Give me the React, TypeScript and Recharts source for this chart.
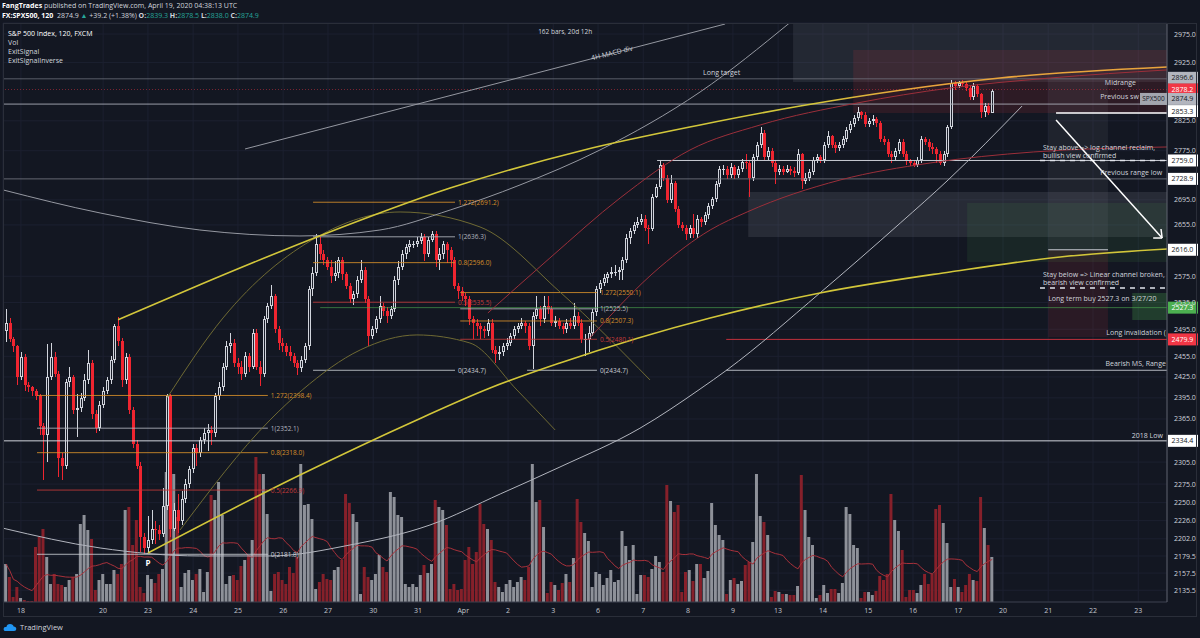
import React from 'react';
import {
  ComposedChart, Bar, Line, XAxis, YAxis, CartesianGrid,
  ReferenceLine, ReferenceArea, ReferenceDot, Cell,
} from 'recharts';

const FONT = '"Open Sans", "Liberation Sans", sans-serif';

// 120-minute candles, FX:SPX500 (open = previous close)
const firstOpen = 2493;
const closes = [
  2505, 2480, 2470, 2425, 2454, 2414, 2410, 2405, 2398, 2355,
  2343, 2425, 2454, 2430, 2310, 2300, 2418, 2425, 2378, 2380,
  2395, 2420, 2445, 2372, 2352, 2385, 2405, 2420, 2450, 2500,
  2478, 2420, 2454, 2378, 2330, 2300, 2205, 2190, 2200, 2215,
  2214, 2208, 2245, 2397, 2215, 2240, 2225, 2255, 2275, 2295,
  2325, 2318, 2335, 2345, 2350, 2345, 2398, 2410, 2440, 2470,
  2475, 2445, 2440, 2430, 2455, 2440, 2490, 2440, 2430, 2510,
  2530, 2545, 2495, 2475, 2470, 2462, 2455, 2445, 2438, 2450,
  2470, 2555, 2580, 2625, 2610, 2600, 2590, 2575, 2580, 2600,
  2578, 2560, 2540, 2548, 2570, 2585, 2540, 2485, 2495, 2510,
  2530, 2522, 2515, 2525, 2570, 2590, 2610, 2620, 2625, 2625,
  2630, 2636, 2610, 2632, 2640, 2600, 2610, 2625, 2615, 2600,
  2560, 2552, 2545, 2540, 2510, 2505, 2500, 2495, 2492, 2505,
  2465, 2458, 2462, 2470, 2475, 2485, 2495, 2500, 2505, 2500,
  2470, 2515, 2525, 2510, 2530, 2525, 2505, 2508, 2500, 2495,
  2505, 2500, 2515, 2505, 2480, 2480, 2490, 2520, 2555, 2565,
  2572, 2578, 2582, 2582, 2585, 2600, 2634, 2645, 2655, 2660,
  2665, 2650, 2648, 2700, 2715, 2752, 2730, 2695, 2722, 2680,
  2655, 2650, 2640, 2650, 2640, 2665, 2660, 2670, 2685, 2697,
  2720, 2745, 2745, 2735, 2748, 2735, 2745, 2757, 2755, 2730,
  2765, 2785, 2805, 2765, 2775, 2755, 2740, 2745, 2740, 2745,
  2742, 2738, 2770, 2725, 2730, 2740, 2760, 2765, 2760, 2785,
  2800, 2785, 2780, 2785, 2795, 2810, 2820, 2830, 2840, 2835,
  2820, 2825, 2828, 2822, 2795, 2790, 2770, 2765, 2775, 2790,
  2770, 2758, 2755, 2752, 2760, 2795, 2790, 2782, 2778, 2770,
  2755, 2770, 2815, 2890, 2885, 2890, 2888, 2880, 2865, 2885,
  2870, 2840, 2850, 2839, 2874.9,
];
const highs = [
  2525, 2512, 2484, 2472, 2462, 2458, 2418, 2412, 2408, 2400,
  2360, 2473, 2475, 2462, 2434, 2318, 2422, 2440, 2428, 2400,
  2402, 2430, 2465, 2450, 2378, 2390, 2410, 2425, 2456, 2503,
  2513, 2482, 2460, 2458, 2382, 2335, 2305, 2210, 2232, 2240,
  2225, 2220, 2270, 2400, 2400, 2250, 2262, 2265, 2282, 2300,
  2330, 2330, 2340, 2352, 2358, 2355, 2402, 2418, 2445, 2478,
  2490, 2480, 2452, 2448, 2462, 2460, 2495, 2495, 2448, 2515,
  2535, 2562, 2548, 2500, 2482, 2475, 2470, 2460, 2450, 2455,
  2475, 2560, 2590, 2640, 2636, 2615, 2605, 2600, 2598, 2605,
  2605, 2582, 2565, 2552, 2575, 2600, 2590, 2545, 2500, 2515,
  2545, 2535, 2528, 2530, 2575, 2598, 2615, 2625, 2632, 2630,
  2636, 2642, 2640, 2636, 2645, 2645, 2618, 2630, 2628, 2620,
  2605, 2565, 2558, 2550, 2545, 2515, 2510, 2505, 2500, 2510,
  2510, 2470, 2470, 2475, 2482, 2490, 2500, 2505, 2512, 2508,
  2505, 2520, 2545, 2530, 2545, 2545, 2530, 2515, 2512, 2505,
  2510, 2512, 2535, 2520, 2510, 2488, 2500, 2525, 2560, 2570,
  2578, 2582, 2590, 2592, 2590, 2605, 2640, 2650, 2660, 2668,
  2672, 2670, 2655, 2705, 2720, 2759, 2755, 2735, 2735, 2725,
  2685, 2660, 2655, 2655, 2672, 2670, 2668, 2675, 2690, 2700,
  2725, 2750, 2752, 2750, 2755, 2752, 2750, 2762, 2770, 2758,
  2770, 2790, 2815, 2810, 2782, 2780, 2760, 2752, 2750, 2752,
  2750, 2748, 2778, 2772, 2738, 2745, 2765, 2770, 2768, 2790,
  2808, 2802, 2790, 2790, 2800, 2815, 2825, 2835, 2848, 2842,
  2840, 2830, 2835, 2832, 2825, 2800, 2795, 2775, 2780, 2795,
  2795, 2775, 2762, 2760, 2765, 2800, 2798, 2795, 2788, 2782,
  2775, 2775, 2818, 2895, 2893, 2893, 2894, 2892, 2884, 2890,
  2888, 2872, 2855, 2855, 2878.5,
];
const lows = [
  2476, 2476, 2462, 2414, 2420, 2405, 2404, 2398, 2392, 2343,
  2280, 2305, 2420, 2425, 2285, 2280, 2296, 2410, 2372, 2340,
  2375, 2390, 2415, 2365, 2345, 2348, 2380, 2400, 2415, 2445,
  2470, 2410, 2415, 2372, 2325, 2295, 2185, 2181.8, 2185, 2195,
  2195, 2200, 2205, 2240, 2205, 2212, 2210, 2220, 2250, 2270,
  2290, 2300, 2312, 2330, 2320, 2328, 2340, 2392, 2405, 2435,
  2460, 2440, 2430, 2420, 2425, 2432, 2436, 2435, 2412, 2425,
  2505, 2525, 2490, 2465, 2462, 2455, 2448, 2440, 2428, 2432,
  2445, 2465, 2545, 2575, 2600, 2592, 2585, 2565, 2568, 2572,
  2570, 2555, 2535, 2532, 2542, 2565, 2535, 2470, 2480, 2490,
  2505, 2515, 2505, 2510, 2520, 2562, 2585, 2602, 2612, 2618,
  2620, 2625, 2598, 2605, 2628, 2590, 2585, 2602, 2595, 2590,
  2555, 2540, 2538, 2530, 2502, 2480, 2485, 2480, 2482, 2485,
  2460, 2445, 2450, 2455, 2465, 2470, 2480, 2490, 2495, 2490,
  2465, 2436, 2510, 2500, 2505, 2518, 2500, 2498, 2495, 2488,
  2490, 2495, 2495, 2500, 2475, 2455, 2462, 2485, 2515, 2550,
  2560, 2565, 2572, 2575, 2570, 2570, 2595, 2625, 2640, 2650,
  2655, 2645, 2625, 2645, 2698, 2712, 2725, 2690, 2690, 2675,
  2650, 2645, 2632, 2635, 2635, 2635, 2652, 2655, 2665, 2680,
  2692, 2715, 2735, 2728, 2730, 2728, 2730, 2740, 2745, 2700,
  2725, 2760, 2780, 2760, 2760, 2748, 2720, 2735, 2735, 2738,
  2735, 2732, 2735, 2712, 2720, 2725, 2735, 2755, 2755, 2755,
  2780, 2780, 2772, 2775, 2780, 2790, 2805, 2815, 2825, 2828,
  2815, 2815, 2818, 2815, 2790, 2785, 2765, 2755, 2760, 2770,
  2765, 2752, 2750, 2748, 2748, 2755, 2785, 2775, 2770, 2755,
  2752, 2750, 2765, 2812, 2878, 2880, 2882, 2875, 2860, 2860,
  2865, 2830, 2832, 2835, 2838,
];
const volumes = [
  38, 25, 5, 15, 4, 2, 1, 1, 55, 65,
  73, 45, 18, 28, 18, 17, 15, 22, 25, 28,
  78, 87, 72, 63, 12, 22, 28, 18, 18, 32,
  28, 38, 92, 95, 57, 82, 15, 9, 27, 23,
  19, 28, 33, 130, 122, 128, 85, 15, 29, 32,
  22, 28, 33, 10, 30, 107, 102, 120, 87, 18,
  26, 27, 22, 36, 42, 47, 62, 145, 128, 128,
  88, 11, 28, 30, 22, 18, 35, 29, 45, 138,
  97, 98, 83, 13, 20, 28, 23, 22, 32, 35,
  42, 108, 99, 88, 80, 8, 35, 25, 22, 28,
  47, 35, 30, 110, 105, 87, 85, 18, 15, 18,
  15, 27, 37, 29, 38, 102, 95, 92, 77, 13,
  18, 12, 13, 42, 55, 38, 50, 98, 78, 73,
  62, 20, 15,
  10, 18, 22, 15, 20, 25, 22, 35, 138, 100,
  102, 75, 9, 20, 17, 12, 19, 28, 20, 44,
  103, 80, 69, 61, 15, 30, 28, 17, 24, 32,
  20, 22, 71, 56, 42, 57, 8, 27, 27, 25,
  33, 46, 40, 30, 117, 101, 90, 97, 10, 30,
  32, 21, 38, 38, 24, 31, 99, 77, 67, 62,
  8, 22, 24, 18, 21, 37, 40, 60, 128, 86,
  80, 67, 5, 11, 10, 8, 8, 7, 7, 16,
  127, 92, 65, 57, 4, 7, 17, 9, 13, 13,
  9, 19, 95, 88, 57, 54, 4, 10, 10, 7,
  11, 26, 22, 28, 108, 82, 71, 52, 5, 12,
  12, 9, 17, 28, 18, 28, 93, 97, 79, 59,
  15, 23, 15, 10, 17, 28, 22, 21, 105, 74,
  57, 45,
];

// time axis (bar index of each date label)
const dateLabels = ['18', '20', '23', '24', '25', '26', '27', '30', '31', 'Apr', '2', '3', '6', '7', '8', '9', '13', '14', '15', '16', '17', '20', '21', '22', '23'];
const dateBars = [4.0, 26.0, 38.0, 50.1, 62.1, 74.2, 86.2, 98.3, 110.3, 122.4, 134.4, 146.5, 158.5, 170.6, 182.6, 194.6, 206.7, 218.7, 230.8, 242.8, 254.9, 266.9, 279.0, 291.0, 303.1];
const priceTicks = [2975, 2925, 2825, 2775, 2695, 2655, 2575, 2535, 2495, 2455, 2425, 2395, 2365, 2305, 2275, 2250, 2226, 2202, 2179.5, 2157.5, 2135.5];

// drawings: [bar index, price]
const upperYellow = [[30.0, 2509], [51.9, 2562], [84.1, 2638], [118.9, 2714], [154.5, 2776], [185.8, 2818], [212.6, 2850], [239.4, 2877], [266.1, 2898], [310.8, 2917]];
const lowerYellow = [[38.0, 2183.5], [78.7, 2287.4], [110.0, 2363.7], [129.6, 2409.1], [148.3, 2445.3], [188.5, 2511.8], [217.9, 2549.5], [252.7, 2581.6], [282.2, 2604.8], [310.8, 2617.2]];
const upperRed = [[129.0, 2519.3], [145.6, 2603.2], [164.4, 2698], [183.1, 2776.3], [201.9, 2818], [227.8, 2855.1], [252.7, 2880.8], [279.5, 2898], [310.8, 2912]];
const lowerRed = [[155.8, 2479.1], [175.1, 2589.3], [188.5, 2647], [198.4, 2675.6], [223.3, 2727.1], [247.4, 2754.9], [275.0, 2773], [310.8, 2781.3]];
const greyArc = [[-0.8, 2711], [25.2, 2674], [51.9, 2647], [78.7, 2637.6], [100.1, 2647], [118.9, 2678.7], [137.6, 2719], [159.0, 2776.3], [185.8, 2873.9], [210.0, 2996]];
const whiteArc = [[-0.8, 2216], [25.2, 2190], [51.9, 2179.6], [70.7, 2179.6], [92.1, 2193.9], [113.5, 2220.2], [132.3, 2261.6], [148.3, 2298.3], [169.7, 2352], [185.8, 2407.6], [193.0, 2435.2], [217.9, 2549.5], [239.4, 2658], [252.2, 2727.1], [272.0, 2850]];
const oliveArcA = [[43.1, 2394.8], [58.1, 2511.8], [83.3, 2636], [105.5, 2675.6], [126.9, 2651.8], [148.3, 2551], [172.4, 2420.7]];
const oliveArcB = [[46.6, 2213.6], [70.7, 2363.7], [79.3, 2406.2], [94.8, 2464.3], [110.0, 2486.5], [124.2, 2474.6], [136.8, 2406.2], [147.0, 2349.6]];

// fib retracements
const ORANGE = '#d68f2a';
const FIBRED = '#c23a3a';
const fibA = [
  { v: 2398.4, t: '1.272(2398.4)', c: ORANGE },
  { v: 2352.1, t: '1(2352.1)', c: '#b2b5be' },
  { v: 2318.0, t: '0.8(2318.0)', c: ORANGE },
  { v: 2266.9, t: '0.5(2266.9)', c: FIBRED },
  { v: 2181.8, t: '0(2181.8)', c: '#c8cbd2' },
];
const fibB = [
  { v: 2691.2, t: '1.272(2691.2)', c: ORANGE },
  { v: 2636.3, t: '1(2636.3)', c: '#b2b5be' },
  { v: 2596.0, t: '0.8(2596.0)', c: ORANGE },
  { v: 2535.5, t: '0.5(2535.5)', c: FIBRED },
  { v: 2434.7, t: '0(2434.7)', c: '#c8cbd2' },
];
const fibC = [
  { v: 2550.1, t: '1.272(2550.1)', c: ORANGE },
  { v: 2525.5, t: '1(2525.5)', c: '#b2b5be' },
  { v: 2507.3, t: '0.8(2507.3)', c: ORANGE },
  { v: 2480.1, t: '0.5(2480.1)', c: FIBRED },
  { v: 2434.7, t: '0(2434.7)', c: '#c8cbd2' },
];

// tags on the price scale
const priceTags = [
  { v: 2896.6, bg: '#b2b5be', fg: '#131722', shift: -1 },
  { v: 2878.2, bg: '#f23645', fg: '#ffffff', shift: 0 },
  { v: 2874.9, bg: '#b2b5be', fg: '#131722', shift: 7.5 },
  { v: 2853.3, bg: '#ffffff', fg: '#131722', shift: 7 },
  { v: 2759.0, bg: '#ffffff', fg: '#131722', shift: 0 },
  { v: 2728.9, bg: '#ffffff', fg: '#131722', shift: 0 },
  { v: 2616.0, bg: '#ffffff', fg: '#131722', shift: 0 },
  { v: 2527.3, bg: '#4caf50', fg: '#ffffff', shift: 0 },
  { v: 2479.9, bg: '#f23645', fg: '#ffffff', shift: 0 },
  { v: 2334.4, bg: '#ffffff', fg: '#131722', shift: 0 },
];

const X_MIN = -0.8;
const X_MAX = 310.8;

const rows = closes.map((c, i) => {
  const o = i === 0 ? firstOpen : closes[i - 1];
  const h = Math.max(highs[i], o, c);
  const l = Math.min(lows[i], o, c);
  return { i, o, c, h, l, range: [l, h], vol: volumes[i], up: c >= o, ma: 0 };
});
// 20-bar moving average of volume
rows.forEach((r, i) => {
  const win = rows.slice(Math.max(0, i - 19), i + 1);
  r.ma = win.reduce((s, w) => s + w.vol, 0) / win.length;
});

const pts = (arr: number[][]) => arr.map(([i, p]) => ({ i, p }));

const Candle = (props: any) => {
  const { x, y, width, height, payload } = props;
  if (!payload || !isFinite(y) || !isFinite(height)) return null;
  const { o, c, h, l, up } = payload;
  const span = Math.log(h) - Math.log(l) || 1e-9;
  const py = (p: number) => y + (height * (Math.log(h) - Math.log(p))) / span;
  const top = Math.round(py(Math.max(o, c)));
  const bot = Math.max(top + 1, Math.round(py(Math.min(o, c))));
  const cx = Math.round(x + width / 2) + 0.5; // pixel centre
  const hiY = Math.round(y);
  const loY = Math.round(y + height);
  if (up) {
    const col = '#d1d4dc';
    return (
      <g>
        <line x1={cx} x2={cx} y1={hiY} y2={top} stroke={col} strokeWidth={1} />
        <line x1={cx} x2={cx} y1={bot} y2={loY} stroke={col} strokeWidth={1} />
        <rect x={cx - 1} y={top + 0.5} width={2} height={Math.max(0.01, bot - top - 1)} fill="#1b1f2b" stroke={col} strokeWidth={1} />
      </g>
    );
  }
  const col = '#ef2530';
  return (
    <g>
      <line x1={cx} x2={cx} y1={hiY} y2={loY} stroke={col} strokeWidth={1} />
      <rect x={cx - 1.5} y={top} width={3} height={bot - top} fill={col} />
    </g>
  );
};

const Note = (props: any) => {
  const { viewBox, text, color = '#d1d4dc', size = 7, anchor = 'start', ox = 0, oy = 0, weight = 400, rotate = 0 } = props;
  if (!viewBox) return null;
  const x = viewBox.x + ox;
  const y = viewBox.y + oy;
  return (
    <text
      x={x} y={y} fill={color} fontSize={size} textAnchor={anchor} dominantBaseline="central"
      fontWeight={weight} fontFamily={FONT}
      transform={rotate ? `rotate(${rotate} ${x} ${y})` : undefined}
    >
      {text}
    </text>
  );
};

const Tag = (props: any) => {
  const { viewBox, text, bg, fg, shift = 0, name } = props;
  if (!viewBox) return null;
  const x = viewBox.x;
  const y = viewBox.y + shift;
  return (
    <g>
      {name && (
        <g>
          <rect x={x - 27} y={y - 6} width={27} height={12} fill="#a3a6af" />
          <text x={x - 13.5} y={y} fill="#131722" fontSize={6.5} fontFamily={FONT} textAnchor="middle" dominantBaseline="central">{name}</text>
        </g>
      )}
      <rect x={x + 1} y={y - 6} width={30} height={12} fill={bg} />
      <text x={x + 4.5} y={y} fill={fg} fontSize={7} fontFamily={FONT} dominantBaseline="central">{text}</text>
    </g>
  );
};

const PriceTick = (props: any) => {
  const { x, y, payload } = props;
  return (
    <text x={x + 1} y={y} fill="#d1d4dc" fontSize={7} fontFamily={FONT} dominantBaseline="central">
      {Number(payload.value).toFixed(1)}
    </text>
  );
};

const DateTick = (props: any) => {
  const { x, y, payload } = props;
  const k = dateBars.indexOf(payload.value);
  return (
    <text x={x} y={y} fill="#c3c6ce" fontSize={7} fontFamily={FONT} textAnchor="middle" dominantBaseline="central">
      {k >= 0 ? dateLabels[k] : ''}
    </text>
  );
};

const AX = { xAxisId: 'x', yAxisId: 'p' } as const;

const fibLines = (levels: typeof fibA, x1: number, x2: number, keyP: string, zeroFrom?: number) =>
  levels.map((f, k) => (
    <ReferenceLine
      key={`${keyP}${k}`}
      {...AX}
      segment={[{ x: k === 4 && zeroFrom !== undefined ? zeroFrom : x1, y: f.v }, { x: x2, y: f.v }]}
      stroke={f.c}
      strokeOpacity={0.85}
      strokeWidth={1}
    />
  ));

const fibNotes = (levels: typeof fibA, x2: number, keyP: string) =>
  levels.map((f, k) => (
    <ReferenceDot
      key={`${keyP}n${k}`}
      {...AX}
      x={x2}
      y={f.v}
      r={0}
      fill="none"
      stroke="none"
      label={<Note text={f.t} color={f.c} ox={3} size={6.5} />}
    />
  ));

const notes = [
  { i: 149.7, p: 2980.3, t: '162 bars, 20d 12h', anchor: 'middle', size: 6.5 },
  { i: 186.6, p: 2908.4, t: 'Long target', anchor: 'start', size: 7 },
  { i: 302.5, p: 2891.1, t: 'Midrange', anchor: 'end', size: 7 },
  { i: 292.9, p: 2865.4, t: 'Previous sw', anchor: 'start', size: 7 },
  { i: 277.6, p: 2779.6, t: 'Stay above => log channel reclaim,', anchor: 'start', size: 7 },
  { i: 277.6, p: 2768.0, t: 'bullish view confirmed', anchor: 'start', size: 7 },
  { i: 309.5, p: 2738.5, t: 'Previous range low', anchor: 'end', size: 7 },
  { i: 277.6, p: 2577.0, t: 'Stay below => Linear channel broken,', anchor: 'start', size: 7 },
  { i: 277.6, p: 2564.7, t: 'bearish view confirmed', anchor: 'start', size: 7 },
  { i: 279.0, p: 2540.4, t: 'Long term buy 2527.3 on 3/27/20', anchor: 'start', size: 7 },
  { i: 310.5, p: 2489.4, t: 'Long invalidation (', anchor: 'end', size: 7 },
  { i: 310.5, p: 2443.9, t: 'Bearish MS, Range', anchor: 'end', size: 7 },
  { i: 309.7, p: 2341.2, t: '2018 Low', anchor: 'end', size: 7 },
];

const CurveLine = ({ data, stroke, width = 1, id }: any) => (
  <Line
    key={id}
    {...AX}
    data={pts(data)}
    dataKey="p"
    type="monotone"
    stroke={stroke}
    strokeWidth={width}
    dot={false}
    activeDot={false}
    isAnimationActive={false}
    legendType="none"
  />
);

export default function App() {
  return (
    <div style={{ position: 'relative', width: 1200, height: 638, background: '#131722', overflow: 'hidden', fontFamily: FONT }}>
      <style>{'body{margin:0;background:#131722;}'}</style>

      {/* publication header */}
      <div style={{ position: 'absolute', left: 2, top: 1, fontSize: 7, color: '#d1d4dc', lineHeight: '10px', whiteSpace: 'nowrap' }}>
        <div><b style={{ color: '#fff' }}>FangTrades</b> published on TradingView.com, April 19, 2020 04:38:13 UTC</div>
        <div>
          <b style={{ color: '#fff' }}>FX:SPX500, 120</b>&nbsp; 2874.9 <span style={{ color: '#26a69a' }}>▲</span> +39.2 (+1.38%){' '}
          <b>O:</b><span style={{ color: '#26a69a' }}>2839.3</span>{' '}
          <b>H:</b><span style={{ color: '#26a69a' }}>2878.5</span>{' '}
          <b>L:</b><span style={{ color: '#26a69a' }}>2838.0</span>{' '}
          <b>C:</b><span style={{ color: '#26a69a' }}>2874.9</span>
        </div>
      </div>

      <div style={{ position: 'absolute', left: 0, top: 0 }}>
        <ComposedChart width={1200} height={638} data={rows} margin={{ top: 23, right: 0, left: 3, bottom: 16 }}>
          <CartesianGrid xAxisId="x" yAxisId="p" stroke="#1c2030" strokeWidth={1} />
          <XAxis
            xAxisId="x" dataKey="i" type="number" domain={[X_MIN, X_MAX]} allowDataOverflow
            ticks={dateBars} interval={0} height={20} tickLine={false}
            axisLine={{ stroke: '#3a3e4a' }} tick={<DateTick />}
          />
          <XAxis xAxisId="xv" dataKey="i" type="number" domain={[X_MIN, X_MAX]} allowDataOverflow hide />
          <YAxis
            yAxisId="p" orientation="right" type="number" scale="log" domain={[2120.6, 2994.6]} allowDataOverflow
            ticks={priceTicks} interval={0} width={33} tickLine={false} tickSize={4}
            axisLine={{ stroke: '#5d606b' }} tick={<PriceTick />}
          />
          <YAxis yAxisId="v" type="number" domain={[0, 579]} allowDataOverflow hide />

          {/* shaded zones */}
          <ReferenceArea {...AX} x1={210.7} x2={X_MAX} y1={2891.1} y2={2994.6} fill="#787b86" fillOpacity={0.17} stroke="none" />
          <ReferenceArea {...AX} x1={226.8} x2={X_MAX} y1={2838.2} y2={2946.8} fill="#f23645" fillOpacity={0.12} stroke="none" />
          <ReferenceArea {...AX} x1={198.7} x2={X_MAX} y1={2636.0} y2={2707.7} fill="#787b86" fillOpacity={0.2} stroke="none" />
          <ReferenceArea {...AX} x1={257.3} x2={X_MAX} y1={2597.1} y2={2689.9} fill="#4caf50" fillOpacity={0.1} stroke="none" />
          <ReferenceArea {...AX} x1={279.0} x2={295.0} y1={2615.7} y2={2898.0} fill="#787b86" fillOpacity={0.12} stroke="none" />
          <ReferenceArea {...AX} x1={279.0} x2={295.0} y1={2483.5} y2={2615.7} fill="#f23645" fillOpacity={0.1} stroke="none" />
          <ReferenceArea {...AX} x1={301.5} x2={X_MAX} y1={2508.8} y2={2549.5} fill="#4caf50" fillOpacity={0.25} stroke="none" />

          {/* volume pane */}
          <Bar xAxisId="xv" yAxisId="v" dataKey="vol" barSize={3} isAnimationActive={false}>
            {rows.map((r) => (
              <Cell key={r.i} fill={r.up ? '#8e9199' : '#86202a'} />
            ))}
          </Bar>
          <Line xAxisId="xv" yAxisId="v" dataKey="ma" type="linear" stroke="#a8313b" strokeWidth={1} dot={false} activeDot={false} isAnimationActive={false} />

          {/* horizontal levels */}
          <ReferenceLine {...AX} y={2896.6} stroke="#787b86" strokeOpacity={0.7} />
          <ReferenceLine {...AX} y={2878.2} stroke="#f23645" strokeOpacity={0.45} strokeDasharray="1 2" />
          <ReferenceLine {...AX} y={2853.3} stroke="#b2b5be" strokeOpacity={0.85} />
          <ReferenceLine {...AX} y={2728.9} stroke="#787b86" strokeOpacity={0.8} />
          <ReferenceLine {...AX} y={2334.4} stroke="#d1d4dc" />
          <ReferenceLine {...AX} segment={[{ x: 174.3, y: 2759.0 }, { x: X_MAX, y: 2759.0 }]} stroke="#c8cbd2" />
          <ReferenceLine {...AX} segment={[{ x: 276.8, y: 2759.0 }, { x: X_MAX, y: 2759.0 }]} stroke="#e0e3eb" strokeWidth={1.5} strokeDasharray="5 5" />
          <ReferenceLine {...AX} segment={[{ x: 276.8, y: 2557.1 }, { x: X_MAX, y: 2557.1 }]} stroke="#e0e3eb" strokeWidth={1.5} strokeDasharray="5 5" />
          <ReferenceLine {...AX} segment={[{ x: 281.1, y: 2838.2 }, { x: X_MAX, y: 2838.2 }]} stroke="#ffffff" strokeWidth={1.5} />
          <ReferenceLine {...AX} segment={[{ x: 279.0, y: 2616.0 }, { x: 295.0, y: 2616.0 }]} stroke="#c8cbd2" />
          <ReferenceLine {...AX} segment={[{ x: 84.1, y: 2527.3 }, { x: X_MAX, y: 2527.3 }]} stroke="#4caf50" strokeOpacity={0.6} />
          <ReferenceLine {...AX} segment={[{ x: 192.8, y: 2479.9 }, { x: X_MAX, y: 2479.9 }]} stroke="#c0313c" />
          <ReferenceLine {...AX} segment={[{ x: 192.8, y: 2434.7 }, { x: X_MAX, y: 2434.7 }]} stroke="#b2b5be" />

          {/* fib retracements */}
          {fibLines(fibA, 8.3, 70.1, 'a')}
          {fibLines(fibB, 82.2, 120.2, 'b')}
          {fibLines(fibC, 121.6, 158.2, 'c', 139.5)}

          {/* trend lines and arcs */}
          {CurveLine({ data: oliveArcA, stroke: '#6f6a33', id: 'oa' })}
          {CurveLine({ data: oliveArcB, stroke: '#6f6a33', id: 'ob' })}
          {CurveLine({ data: greyArc, stroke: '#9598a1', id: 'ga' })}
          {CurveLine({ data: whiteArc, stroke: '#b2b5be', id: 'wa' })}
          {CurveLine({ data: lowerRed, stroke: '#9c2f3a', id: 'lr' })}
          {CurveLine({ data: upperRed, stroke: '#9c2f3a', id: 'ur' })}
          {CurveLine({ data: lowerYellow, stroke: '#d2c63a', width: 1.6, id: 'ly' })}
          {CurveLine({ data: upperYellow, stroke: 'url(#ylw)', width: 1.6, id: 'uy' })}
          <defs>
            <linearGradient id="ylw" x1="0" y1="0" x2="1" y2="0">
              <stop offset="0%" stopColor="#d2c63a" />
              <stop offset="66%" stopColor="#d2c63a" />
              <stop offset="76%" stopColor="#e9a43c" />
              <stop offset="100%" stopColor="#e9a43c" />
            </linearGradient>
          </defs>
          <ReferenceLine {...AX} segment={[{ x: 64.0, y: 2778 }, { x: 192.5, y: 2992.8 }]} stroke="#9598a1" />

          {/* arrow */}
          <ReferenceLine {...AX} segment={[{ x: 281.1, y: 2826.4 }, { x: 309.5, y: 2634.4 }]} stroke="#ffffff" strokeWidth={1.5} />
          <ReferenceLine {...AX} segment={[{ x: 307.1, y: 2634.4 }, { x: 309.5, y: 2634.4 }]} stroke="#ffffff" strokeWidth={1.5} />
          <ReferenceLine {...AX} segment={[{ x: 309.2, y: 2648.6 }, { x: 309.5, y: 2634.4 }]} stroke="#ffffff" strokeWidth={1.5} />

          {/* candles */}
          <Bar {...AX} dataKey="range" barSize={3} shape={<Candle />} isAnimationActive={false} />

          {/* labels */}
          {fibNotes(fibA, 70.1, 'a')}
          {fibNotes(fibB, 120.2, 'b')}
          {fibNotes(fibC, 158.2, 'c')}
          {notes.map((n, k) => (
            <ReferenceDot key={`n${k}`} {...AX} x={n.i} y={n.p} r={0} fill="none" stroke="none"
              label={<Note text={n.t} anchor={n.anchor} size={n.size} />} />
          ))}
          <ReferenceDot {...AX} x={162.2} y={2941.5} r={0} fill="none" stroke="none"
            label={<Note text="4H MACD div" anchor="middle" size={7} rotate={-14} color="#c8cbd2" />} />
          <ReferenceDot {...AX} x={38.0} y={2170.6} r={0} fill="none" stroke="none"
            label={<Note text="P" anchor="middle" size={8} weight={700} color="#ffffff" />} />

          {/* price scale tags */}
          {priceTags.map((t, k) => (
            <ReferenceDot key={`t${k}`} {...AX} x={X_MAX} y={t.v} r={0} fill="none" stroke="none"
              label={<Tag text={t.v.toFixed(1)} bg={t.bg} fg={t.fg} shift={t.shift} name={t.v === 2874.9 ? 'SPX500' : undefined} />} />
          ))}
        </ComposedChart>
      </div>

      {/* pane legend */}
      <div style={{ position: 'absolute', left: 8, top: 29, fontSize: 7, color: '#d1d4dc', lineHeight: '9px' }}>
        <div style={{ color: '#fff' }}>S&amp;P 500 Index, 120, FXCM</div>
        <div>Vol</div>
        <div>ExitSignal</div>
        <div>ExitSignalInverse</div>
      </div>

      {/* frame */}
      <div style={{ position: 'absolute', left: 3, top: 23, width: 1194, height: 594, border: '1px solid #2a2e39', boxSizing: 'border-box', pointerEvents: 'none' }} />

      {/* branding */}
      <div style={{ position: 'absolute', left: 3, top: 622, display: 'flex', alignItems: 'center', gap: 3, fontSize: 7.5, color: '#d1d4dc' }}>
        <svg width="14" height="9" viewBox="0 0 15 10">
          <path d="M3 9 Q0 9 0.5 6 Q1 4 3.5 4.5 Q4 1 7.5 1 Q11 1 11.5 4 Q14.5 4 14.5 6.8 Q14.5 9 12 9 Z" fill="#2196f3" />
        </svg>
        <span>TradingView</span>
      </div>
    </div>
  );
}
